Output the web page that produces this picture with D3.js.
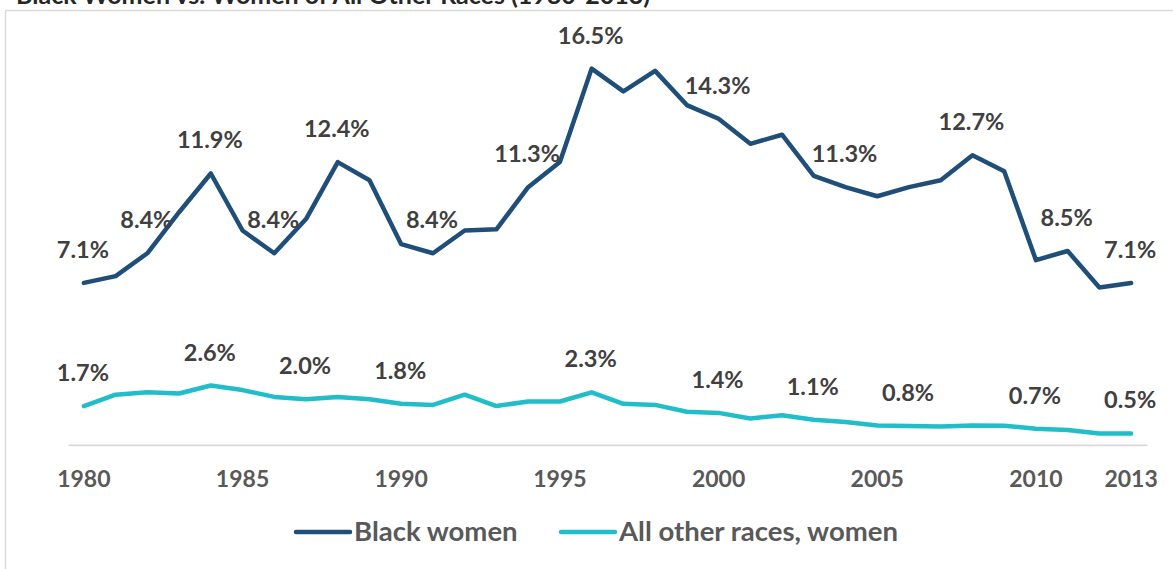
<!DOCTYPE html>
<html>
<head>
<meta charset="utf-8">
<script src="https://cdn.jsdelivr.net/npm/d3@7"></script>
<style>
  html, body { margin: 0; padding: 0; background: #ffffff; }
  svg { display: block; font-family: Lato, "Open Sans", sans-serif; }
</style>
</head>
<body>
<svg id="chart" width="1173" height="569"></svg>
<script>
const years = [1980,1981,1982,1983,1984,1985,1986,1987,1988,1989,1990,1991,1992,1993,1994,1995,1996,1997,1998,1999,2000,2001,2002,2003,2004,2005,2006,2007,2008,2009,2010,2011,2012,2013];
const blackWomen = [7.1,7.4,8.4,10.2,11.9,9.4,8.4,9.9,12.4,11.6,8.8,8.4,9.4,9.45,11.3,12.4,16.5,15.5,16.4,14.9,14.3,13.2,13.6,11.8,11.3,10.9,11.3,11.6,12.7,12.0,8.1,8.5,6.9,7.1];
const otherWomen = [1.7,2.2,2.3,2.25,2.6,2.4,2.1,2.0,2.1,2.0,1.8,1.75,2.2,1.7,1.9,1.9,2.3,1.8,1.75,1.45,1.4,1.15,1.3,1.1,1.0,0.85,0.82,0.8,0.85,0.84,0.7,0.65,0.5,0.5];
const blackLabelYears = [1980,1982,1984,1986,1988,1991,1994,1996,2000,2004,2008,2011,2013];
const otherLabelYears = [1980,1984,1987,1990,1996,2000,2003,2006,2010,2013];
const tickLabels = ["1980","1985","1990","1995","2000","2005","2010","2013"];
const seriesNames = ["Black women","All other races, women"];
const seriesColors = ["#1F4E79","#21BDC9"];
const titleText = "Black Women vs. Women of All Other Races (1980-2013)";

const svg = d3.select("#chart");

// chart frame
svg.append("line").attr("x1",5.5).attr("x2",1173).attr("y1",10.5).attr("y2",10.5)
  .attr("stroke","#d9d9d9").attr("stroke-width",1.5);
svg.append("line").attr("x1",5.5).attr("x2",5.5).attr("y1",10.5).attr("y2",569)
  .attr("stroke","#d9d9d9").attr("stroke-width",1.5);

// title (mostly above the visible area, as in the reference)
svg.append("text").attr("x",16).attr("y",4)
  .attr("font-size",25).attr("font-weight",700).attr("fill","#262626")
  .text(titleText);

const x = d3.scaleBand().domain(years.map(String)).range([68, 1147]);
const xc = d => x(String(d)) + x.bandwidth()/2;
const y = d3.scaleLinear().domain([0, 18]).range([444.8, 444.8 - 18*22.8]);

// x axis
const xAxis = d3.axisBottom(x).tickValues(tickLabels).tickSize(0).tickPadding(0);
const gx = svg.append("g").attr("transform", `translate(0,${y(0)})`).call(xAxis);
gx.select(".domain").attr("stroke","#d9d9d9").attr("stroke-width",1.8);
gx.selectAll(".tick text")
  .attr("y", 42)
  .attr("dy", 0)
  .attr("font-family","Lato, 'Open Sans', sans-serif")
  .attr("font-size",23).attr("font-weight",700).attr("fill","#595959");

const series = [
  {name: seriesNames[0], values: blackWomen, color: seriesColors[0], labels: blackLabelYears},
  {name: seriesNames[1], values: otherWomen, color: seriesColors[1], labels: otherLabelYears}
];

const line = d3.line().x((d,i) => xc(years[i])).y(d => y(d));

series.forEach(s => {
  svg.append("path").datum(s.values)
    .attr("d", line)
    .attr("fill","none")
    .attr("stroke", s.color)
    .attr("stroke-width",4.5)
    .attr("stroke-linejoin","round")
    .attr("stroke-linecap","round");
  svg.append("g").selectAll("text")
    .data(s.labels)
    .join("text")
    .attr("x", d => xc(d) - 1)
    .attr("y", d => y(s.values[years.indexOf(d)]) - 25)
    .attr("text-anchor","middle")
    .attr("font-size",23.5).attr("font-weight",700).attr("fill","#404040")
    .text(d => s.values[years.indexOf(d)].toFixed(1) + "%");
});

// legend
const legendItems = [
  {name: seriesNames[0], color: seriesColors[0], x0: 296},
  {name: seriesNames[1], color: seriesColors[1], x0: 561}
];
const lg = svg.append("g");
legendItems.forEach(it => {
  lg.append("line").attr("x1", it.x0).attr("x2", it.x0 + 54)
    .attr("y1", 532).attr("y2", 532)
    .attr("stroke", it.color).attr("stroke-width",4.5).attr("stroke-linecap","round");
  lg.append("text").attr("x", it.x0 + 58).attr("y", 541)
    .attr("font-size",27.5).attr("font-weight",700).attr("fill","#595959")
    .text(it.name);
});
</script>
</body>
</html>
